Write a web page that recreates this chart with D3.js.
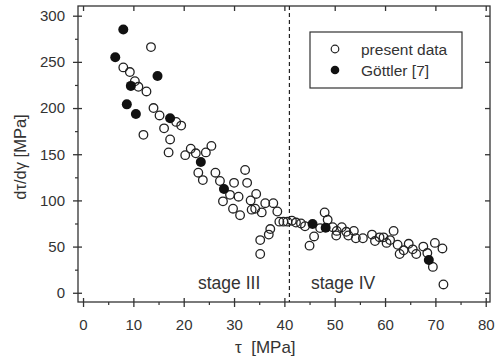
<!DOCTYPE html>
<html>
<head>
<meta charset="utf-8">
<script src="https://cdn.jsdelivr.net/npm/d3@7"></script>
<style>
  body { margin: 0; background: #fff; }
  svg text { font-family: "Liberation Sans", Arial, sans-serif; fill: #333; }
</style>
</head>
<body>
<div id="chart"></div>
<script>
// open circles: present data  [tau, dtau/dgamma]
var presentTau = [8.0, 9.3, 10.3, 11.0, 12.6, 12.0, 13.5, 14.0, 15.2, 16.1, 17.3, 17.0, 18.5, 19.5, 20.3, 21.4, 22.4, 22.9, 23.8, 24.4,
  25.5, 26.3, 27.2, 27.8, 29.2, 29.8, 30.0, 30.9, 31.2, 32.2, 32.6, 33.3, 33.5, 34.2, 34.4, 35.5, 36.2, 37.8, 38.6, 37.2,
  36.9, 35.2, 35.2, 39.0, 39.8, 40.6, 41.5, 42.3, 43.3, 44.1, 45.0, 45.9, 47.1, 48.0, 48.6, 49.6, 50.4, 50.3, 51.4, 52.3,
  52.7, 53.8, 54.2, 55.6, 57.4, 58.0, 58.9, 59.7, 60.3, 61.0, 61.7, 62.5, 62.9, 63.7, 64.7, 65.5, 66.2, 67.6, 68.4, 69.9,
  71.4, 69.5, 71.6];
var presentSlope = [244, 239, 229, 223, 218, 171, 266, 200, 192, 178, 166, 152, 185, 181, 149, 156, 151, 130, 122, 152,
  159, 130, 121, 99, 106, 91, 119, 104, 84, 133, 119, 100, 90, 91, 107, 87, 97, 97, 88, 69,
  63, 57, 42, 77, 77, 77, 78, 76, 75, 72, 51, 61, 70, 87, 79, 71, 67, 62, 71, 66,
  62, 67, 59, 59, 63, 56, 60, 60, 54, 57, 67, 52, 42, 46, 53, 47, 42, 50, 43, 54,
  48, 28, 9];

// filled circles: Goettler [7]
var gottlerTau = [6.4, 8.0, 8.7, 9.5, 10.5, 14.8, 17.3, 23.4, 28.0, 45.6, 48.2, 68.7];
var gottlerSlope = [255, 285, 204, 224, 193.5, 234.7, 189, 141.5, 112.3, 74.4, 70.4, 35.4];

var xTicks = [0, 10, 20, 30, 40, 50, 60, 70, 80];
var yTicks = [0, 50, 100, 150, 200, 250, 300];
var stageBoundary = 41;

var W = 497, H = 358, ink = "#333";

var svg = d3.select("#chart").append("svg")
    .attr("width", W).attr("height", H);

// frame extents expressed in data units
var x = d3.scaleLinear().domain([-1, 80.85]).range([78, 490]);
var y = d3.scaleLinear().domain([-10, 310.5]).range([302, 6]);

// frame
svg.append("rect")
  .attr("x", x(-1)).attr("y", y(310.5))
  .attr("width", x(80.85) - x(-1)).attr("height", y(-10) - y(310.5))
  .attr("fill", "none").attr("stroke", ink).attr("stroke-width", 1.3);

// bottom axis
var gx = svg.append("g").attr("transform", "translate(0," + y(-10) + ")")
  .call(d3.axisBottom(x).tickValues(xTicks).tickSize(5).tickPadding(12));
gx.select(".domain").remove();
gx.selectAll(".tick line").attr("y1", -4).attr("stroke", ink).attr("stroke-width", 1.3);
gx.selectAll(".tick text").style("font-size", "15px").attr("fill", ink);
var gxm = svg.append("g").attr("transform", "translate(0," + y(-10) + ")")
  .call(d3.axisBottom(x).tickValues(d3.range(5, 80, 10)).tickSize(3).tickFormat(""));
gxm.select(".domain").remove();
gxm.selectAll(".tick line").attr("stroke", ink).attr("stroke-width", 1.2);

// top ticks
var gt = svg.append("g").attr("transform", "translate(0," + y(310.5) + ")")
  .call(d3.axisTop(x).tickValues(xTicks).tickSize(-5).tickFormat(""));
gt.select(".domain").remove();
gt.selectAll(".tick line").attr("stroke", ink).attr("stroke-width", 1.3);

// left axis
var gy = svg.append("g").attr("transform", "translate(" + x(-1) + ",0)")
  .call(d3.axisLeft(y).tickValues(yTicks).tickSize(5).tickPadding(8));
gy.select(".domain").remove();
gy.selectAll(".tick line").attr("x1", 4).attr("stroke", ink).attr("stroke-width", 1.3);
gy.selectAll(".tick text").style("font-size", "15px").attr("fill", ink);
var gym = svg.append("g").attr("transform", "translate(" + x(-1) + ",0)")
  .call(d3.axisLeft(y).tickValues(d3.range(25, 300, 50)).tickSize(3).tickFormat(""));
gym.select(".domain").remove();
gym.selectAll(".tick line").attr("stroke", ink).attr("stroke-width", 1.2);

// right ticks
var gr = svg.append("g").attr("transform", "translate(" + x(80.85) + ",0)")
  .call(d3.axisRight(y).tickValues(yTicks).tickSize(-5).tickFormat(""));
gr.select(".domain").remove();
gr.selectAll(".tick line").attr("stroke", ink).attr("stroke-width", 1.3);

// axis titles
svg.append("text")
  .attr("x", 235).attr("y", 353)
  .style("font-size", "17px")
  .style("white-space", "pre")
  .text("\u03c4  [MPa]");

svg.append("text")
  .attr("transform", "translate(26," + 157 + ") rotate(-90)")
  .attr("text-anchor", "middle")
  .style("font-size", "16.5px")
  .text("d\u03c4/d\u03b3 [MPa]");

// stage boundary
svg.append("line")
  .attr("x1", x(stageBoundary)).attr("x2", x(stageBoundary))
  .attr("y1", y(310.5)).attr("y2", y(-10))
  .attr("stroke", "#222").attr("stroke-width", 1.2)
  .attr("stroke-dasharray", "4,3");

svg.append("text").attr("x", 198).attr("y", 289)
  .style("font-size", "17.5px").text("stage III");
svg.append("text").attr("x", 311).attr("y", 289)
  .style("font-size", "17.5px").text("stage IV");

// points
var present = presentTau.map(function (t, i) { return [t, presentSlope[i]]; });
var gottler = gottlerTau.map(function (t, i) { return [t, gottlerSlope[i]]; });

svg.append("g").selectAll("circle")
  .data(present).enter().append("circle")
    .attr("cx", function (d) { return x(d[0]); })
    .attr("cy", function (d) { return y(d[1]); })
    .attr("r", 4.3)
    .attr("fill", "none")
    .attr("stroke", "#222").attr("stroke-width", 1.3);

svg.append("g").selectAll("circle")
  .data(gottler).enter().append("circle")
    .attr("cx", function (d) { return x(d[0]); })
    .attr("cy", function (d) { return y(d[1]); })
    .attr("r", 5)
    .attr("fill", "#111");

// legend
var lg = svg.append("g");
lg.append("rect")
  .attr("x", 310).attr("y", 32).attr("width", 152).attr("height", 56)
  .attr("fill", "#fff").attr("stroke", ink).attr("stroke-width", 1.2);
lg.append("circle").attr("cx", 335).attr("cy", 49).attr("r", 3.8)
  .attr("fill", "none").attr("stroke", "#222").attr("stroke-width", 1.2);
lg.append("circle").attr("cx", 335).attr("cy", 70).attr("r", 4.3)
  .attr("fill", "#111");
lg.append("text").attr("x", 361).attr("y", 54.5)
  .style("font-size", "15.5px").text("present data");
lg.append("text").attr("x", 361).attr("y", 75.5)
  .style("font-size", "15.5px").text("G\u00f6ttler [7]");
</script>
</body>
</html>
